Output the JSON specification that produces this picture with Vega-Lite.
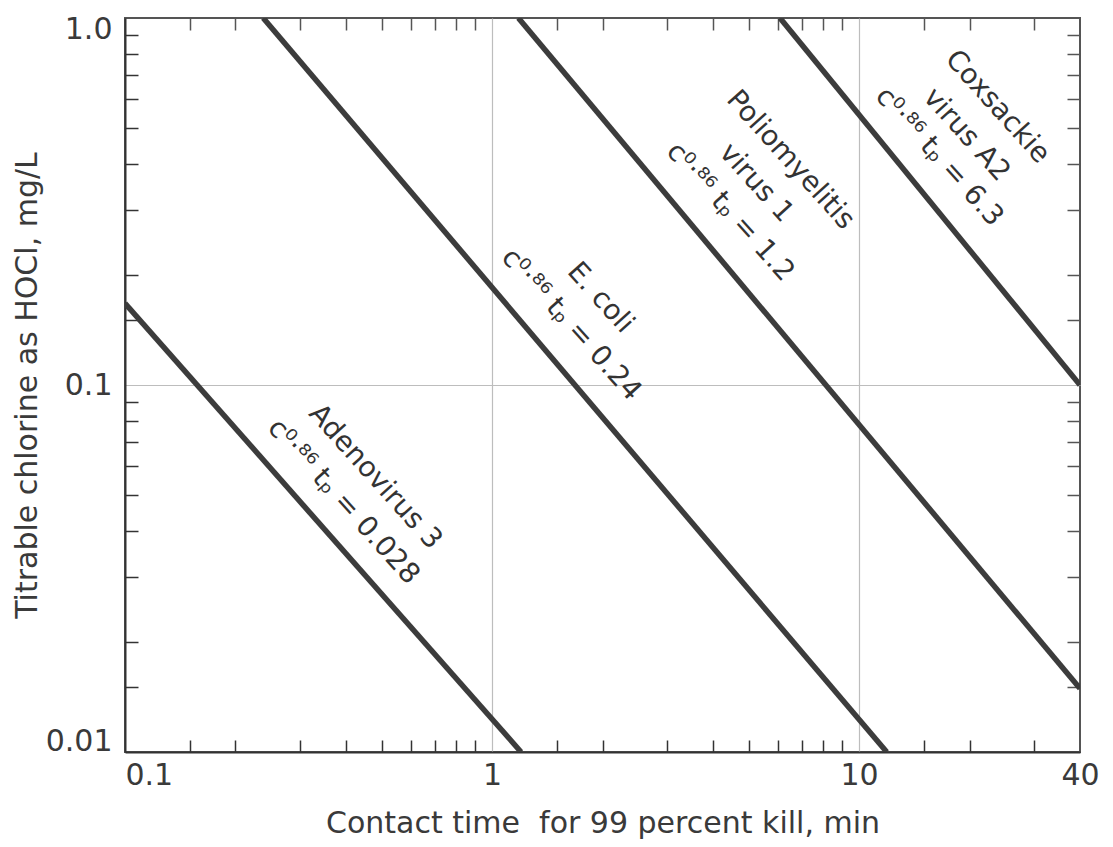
{
  "$schema": "https://vega.github.io/schema/vega-lite/v6.json",
  "width": 955,
  "height": 734,
  "autosize": "none",
  "padding": {"left": 125, "top": 18, "right": 33, "bottom": 95},
  "background": "white",
  "config": {
    "view": {"stroke": "#555", "strokeWidth": 2},
    "font": "DejaVu Sans",
    "axis": {"labelFont": "DejaVu Sans", "titleFont": "DejaVu Sans", "labelColor": "#3a3a3a", "titleColor": "#3a3a3a", "titleFontWeight": "normal"}
  },
  "datasets": {
    "lines": [
      {"organism": "Adenovirus 3", "t": 0.1, "c": 0.167},
      {"organism": "Adenovirus 3", "t": 1.2, "c": 0.01},
      {"organism": "E. coli", "t": 0.238, "c": 1.0},
      {"organism": "E. coli", "t": 11.9, "c": 0.01},
      {"organism": "Poliomyelitis virus 1", "t": 1.18, "c": 1.0},
      {"organism": "Poliomyelitis virus 1", "t": 40, "c": 0.0149},
      {"organism": "Coxsackie virus A2", "t": 6.09, "c": 1.0},
      {"organism": "Coxsackie virus A2", "t": 40, "c": 0.1}
    ],
    "labels": [
      {"role": "name", "text": "Adenovirus 3", "t": 0.48, "c": 0.0561},
      {"role": "eq", "text": "c⁰·⁸⁶ tₚ = 0.028", "t": 0.393, "c": 0.048},
      {"role": "name", "text": "E. coli", "t": 1.97, "c": 0.1726},
      {"role": "eq", "text": "c⁰·⁸⁶ tₚ = 0.24", "t": 1.64, "c": 0.146},
      {"role": "name", "text": "Poliomyelitis", "t": 6.49, "c": 0.41},
      {"role": "name", "text": "virus 1", "t": 5.24, "c": 0.355},
      {"role": "eq", "text": "c⁰·⁸⁶ tₚ = 1.2", "t": 4.45, "c": 0.296},
      {"role": "name", "text": "Coxsackie", "t": 23.8, "c": 0.572},
      {"role": "name", "text": "virus A2", "t": 19.6, "c": 0.48},
      {"role": "eq", "text": "c⁰·⁸⁶ tₚ = 6.3", "t": 16.5, "c": 0.418}
    ]
  },
  "resolve": {"axis": {"x": "independent", "y": "independent"}},
  "layer": [
    {
      "data": {"name": "lines"},
      "mark": {"type": "line", "color": "#3c3c3c", "strokeWidth": 5.5, "clip": true},
      "encoding": {
        "detail": {"field": "organism", "type": "nominal"},
        "x": {
          "field": "t", "type": "quantitative",
          "scale": {"type": "log", "domain": [0.1, 40], "nice": false},
          "axis": {
            "orient": "bottom",
            "values": [0.1, 0.15, 0.2, 0.3, 0.4, 0.5, 0.6, 0.7, 0.8, 0.9, 1, 1.5, 2, 3, 4, 5, 6, 7, 8, 9, 10, 15, 20, 30, 40],
            "labelExpr": "datum.value == 0.1 ? '0.1' : datum.value == 1 ? '1' : datum.value == 10 ? '10' : datum.value == 40 ? '40' : ''",
            "labelOverlap": false,
            "labelFlush": false,
            "labelAlign": {"condition": {"test": "datum.value == 0.1", "value": "left"}, "value": "center"},
            "labelFontSize": 30,
            "labelPadding": 20,
            "grid": true,
            "gridColor": "#bdbdbd",
            "gridWidth": 1.2,
            "gridOpacity": {"condition": {"test": "datum.value == 1 || datum.value == 10", "value": 1}, "value": 0},
            "ticks": true,
            "tickSize": -12,
            "tickColor": "#333",
            "tickWidth": 1.5,
            "tickOpacity": {"condition": {"test": "datum.value == 0.1 || datum.value == 1 || datum.value == 10 || datum.value == 40", "value": 0}, "value": 1},
            "domainColor": "#333",
            "domainWidth": 2,
            "title": "Contact time\u00a0 for 99 percent kill, min",
            "titleFontSize": 30,
            "titlePadding": 18
          }
        },
        "y": {
          "field": "c", "type": "quantitative",
          "scale": {"type": "log", "domain": [0.01, 1], "nice": false},
          "axis": {
            "orient": "left",
            "values": [0.01, 0.015, 0.02, 0.03, 0.04, 0.05, 0.06, 0.07, 0.08, 0.09, 0.1, 0.15, 0.2, 0.3, 0.4, 0.5, 0.6, 0.7, 0.8, 0.9, 1],
            "labelExpr": "datum.value == 1 ? '1.0' : datum.value == 0.1 ? '0.1' : datum.value == 0.01 ? '0.01' : ''",
            "labelOverlap": false,
            "labelFlush": true,
            "labelFlushOffset": 4,
            "labelFontSize": 30,
            "labelPadding": 26,
            "grid": true,
            "gridColor": "#bdbdbd",
            "gridWidth": 1.2,
            "gridOpacity": {"condition": {"test": "datum.value == 0.1", "value": 1}, "value": 0},
            "tickSize": -13,
            "tickColor": "#333",
            "tickWidth": 1.5,
            "tickOpacity": {"condition": {"test": "datum.value == 0.01 || datum.value == 0.1 || datum.value == 1", "value": 0}, "value": 1},
            "domainColor": "#333",
            "domainWidth": 2,
            "title": "Titrable chlorine as HOCl, mg/L",
            "titleFontSize": 30,
            "titlePadding": 3
          }
        }
      }
    },
    {
      "data": {"name": "labels"},
      "transform": [{"filter": "datum.role == 'name'"}],
      "mark": {"type": "text", "angle": 48, "align": "center", "baseline": "middle", "fontSize": 28, "color": "#333", "font": "DejaVu Sans"},
      "encoding": {
        "text": {"field": "text", "type": "nominal"},
        "x": {
          "field": "t", "type": "quantitative",
          "scale": {"type": "log", "domain": [0.1, 40], "nice": false},
          "axis": {
            "orient": "top",
            "values": [0.15, 0.2, 0.3, 0.4, 0.5, 0.6, 0.7, 0.8, 0.9, 1.5, 2, 3, 4, 5, 6, 7, 8, 9, 15, 20, 30],
            "labels": false, "grid": false, "domain": false,
            "tickSize": -12, "tickColor": "#555", "tickWidth": 1.5,
            "title": null
          }
        },
        "y": {
          "field": "c", "type": "quantitative",
          "scale": {"type": "log", "domain": [0.01, 1], "nice": false},
          "axis": {
            "orient": "right",
            "values": [0.015, 0.02, 0.03, 0.04, 0.05, 0.06, 0.07, 0.08, 0.09, 0.15, 0.2, 0.3, 0.4, 0.5, 0.6, 0.7, 0.8, 0.9],
            "labels": false, "grid": false, "domain": false,
            "tickSize": -13, "tickColor": "#555", "tickWidth": 1.5,
            "title": null
          }
        }
      }
    },
    {
      "data": {"name": "labels"},
      "transform": [{"filter": "datum.role == 'eq'"}],
      "mark": {"type": "text", "angle": 48, "align": "center", "baseline": "middle", "fontSize": 28, "color": "#333", "font": "DejaVu Sans"},
      "encoding": {
        "text": {"field": "text", "type": "nominal"},
        "x": {"field": "t", "type": "quantitative", "scale": {"type": "log", "domain": [0.1, 40], "nice": false}, "axis": null},
        "y": {"field": "c", "type": "quantitative", "scale": {"type": "log", "domain": [0.01, 1], "nice": false}, "axis": null}
      }
    }
  ]
}
